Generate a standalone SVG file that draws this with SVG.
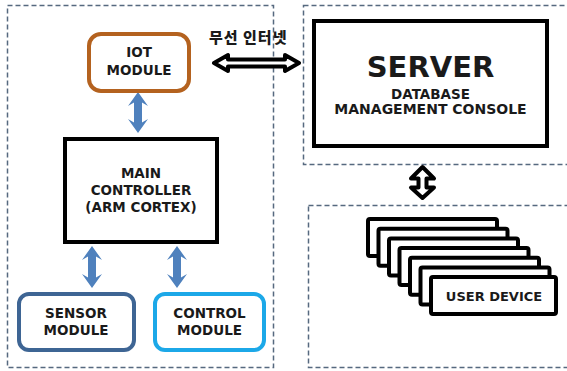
<svg xmlns="http://www.w3.org/2000/svg" width="567" height="371" viewBox="0 0 567 371">
<style>
.dash{fill:none;stroke:#56697f;stroke-width:1.5;stroke-dasharray:5 3}
.t{font-family:"DejaVu Sans","Noto Sans",sans-serif;font-weight:bold;fill:#1a1a1a;text-anchor:middle}
.m{font-size:13.5px}
.blk{fill:#fff;stroke:#000;stroke-width:4}
.barrow{fill:#4f81bd}
.oarrow{fill:#fff;stroke:#000;stroke-width:4;stroke-linejoin:round}
</style>
<rect x="0" y="0" width="567" height="371" fill="#fff"/>
<g id="containers">
<rect class="dash" x="7.5" y="5.5" width="266" height="362"/>
<rect class="dash" x="303.5" y="5.5" width="270" height="159"/>
<rect class="dash" x="308.5" y="205.5" width="265" height="162"/>
</g>
<g id="connectors">
<polygon class="barrow" points="138,92 148,106 142,102.5 142,122.5 148,119 138,133 128,119 134,122.5 134,102.5 128,106"/>
<polygon class="barrow" points="92,246 102,260 96,256.5 96,277.5 102,274 92,288 82,274 88,277.5 88,256.5 82,260"/>
<polygon class="barrow" points="177,246 187,260 181,256.5 181,277.5 187,274 177,288 167,274 173,277.5 173,256.5 167,260"/>
<polygon class="oarrow" points="214,63 228,55 228,59.5 285,59.5 285,55 299,63 285,71 285,66.5 228,66.5 228,71"/>
<polygon class="oarrow" points="422.5,167 434,178.5 426.5,178.5 426.5,187.5 434,187.5 422.5,198 411,187.5 418.5,187.5 418.5,178.5 411,178.5"/>
<text x="209" y="43" style="font-family:'Noto Sans CJK KR',sans-serif;font-weight:900;font-size:15px;letter-spacing:1px;fill:#1a1a1a">무선 인터넷</text>
</g>
<g id="iot">
<rect x="89" y="34" width="100" height="57" rx="12" fill="#fff" stroke="#b4621f" stroke-width="4"/>
<text class="t m" x="139" y="57">IOT</text>
<text class="t m" x="139" y="75">MODULE</text>
</g>
<g id="main">
<rect class="blk" x="65" y="139" width="152" height="103"/>
<text class="t m" x="141" y="178">MAIN</text>
<text class="t m" x="141" y="195">CONTROLLER</text>
<text class="t m" x="141" y="211.5">(ARM CORTEX)</text>
</g>
<g id="sensor">
<rect x="19" y="294" width="115" height="56" rx="10" fill="#fff" stroke="#3e6594" stroke-width="4"/>
<text class="t m" x="76" y="318">SENSOR</text>
<text class="t m" x="76" y="334.5">MODULE</text>
</g>
<g id="control">
<rect x="155" y="294" width="109" height="56" rx="10" fill="#fff" stroke="#1ca8e8" stroke-width="4"/>
<text class="t m" x="209.5" y="318">CONTROL</text>
<text class="t m" x="209.5" y="334.5">MODULE</text>
</g>
<g id="server">
<rect class="blk" x="314" y="21" width="233" height="125"/>
<text class="t" x="430.5" y="77" style="font-size:29px">SERVER</text>
<text class="t" x="430.5" y="99" style="font-size:13.5px">DATABASE</text>
<text class="t" x="430.5" y="114" style="font-size:14px">MANAGEMENT CONSOLE</text>
</g>
<g id="user-device">
<rect class="blk" x="368" y="219" width="129" height="37" rx="2"/>
<rect class="blk" x="378.5" y="228.7" width="129" height="37" rx="2"/>
<rect class="blk" x="389" y="238.4" width="129" height="37" rx="2"/>
<rect class="blk" x="399.5" y="248.1" width="129" height="37" rx="2"/>
<rect class="blk" x="410" y="257.8" width="129" height="37" rx="2"/>
<rect class="blk" x="420.5" y="267.5" width="129" height="37" rx="2"/>
<rect class="blk" x="431" y="277" width="125" height="37" rx="2"/>
<text class="t" x="494" y="300.5" style="font-size:13px">USER DEVICE</text>
</g>
</svg>
